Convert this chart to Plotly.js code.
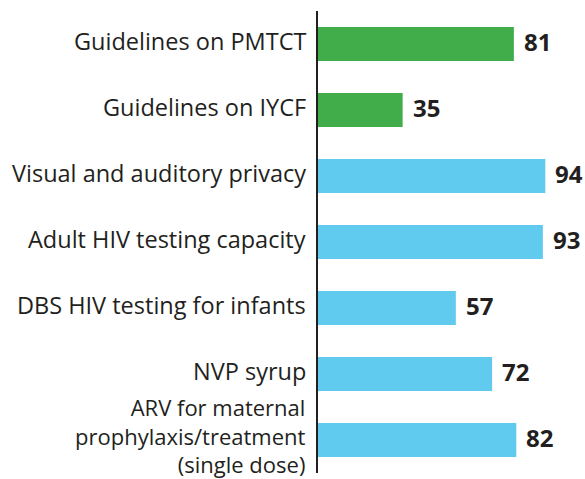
<!DOCTYPE html>
<html>
<head>
<meta charset="utf-8">
<script src="https://cdn.plot.ly/plotly-3.0.1.min.js"></script>
<style>html,body{margin:0;padding:0;background:#fff;}#chart{width:585px;height:479px;}</style>
</head>
<body>
<div id="chart"></div>
<script>
const categories = [
  "Guidelines on PMTCT",
  "Guidelines on IYCF",
  "Visual and auditory privacy",
  "Adult HIV testing capacity",
  "DBS HIV testing for infants",
  "NVP syrup",
  "ARV for maternal<br>prophylaxis/treatment<br>(single dose)"
];
const values = [81, 35, 94, 93, 57, 72, 82];
const groups = ["guidelines", "guidelines", "services", "services", "services", "services", "services"];
const groupColors = {guidelines: "#40ad4a", services: "#60cbef"};

const textColor = "#231f20";

const trace = {
  type: "bar",
  orientation: "h",
  x: values,
  y: categories,
  marker: {color: groups.map(g => groupColors[g])},
  hoverinfo: "none"
};

const annotations = [];
values.forEach((v, i) => {
  annotations.push({
    x: v, y: categories[i], xref: "x", yref: "y",
    text: String(v), showarrow: false, xanchor: "left", xshift: 8, yshift: 3,
    font: {family: "Open Sans", size: 24, color: textColor, weight: "bold"}
  });
});
categories.forEach((c) => {
  const multi = c.indexOf("<br>") >= 0;
  annotations.push({
    x: 0, y: c, xref: "x", yref: "y",
    text: c, showarrow: false, xanchor: "right", yanchor: "middle", align: "right",
    xshift: -10, yshift: multi ? 5 : 3,
    font: {family: "Open Sans", size: multi ? 22 : 23.5, color: textColor}
  });
});

const layout = {
  width: 585, height: 479,
  margin: {l: 318, r: 1, t: 11, b: 6, pad: 0},
  paper_bgcolor: "#ffffff", plot_bgcolor: "#ffffff",
  showlegend: false,
  bargap: 0.485,
  xaxis: {range: [0, 110], showgrid: false, zeroline: false, showline: false, showticklabels: false, ticks: ""},
  yaxis: {
    range: [categories.length - 0.5, -0.5], showgrid: false, zeroline: false,
    showline: true, linecolor: textColor, linewidth: 2.5,
    ticks: "", showticklabels: false
  },
  annotations: annotations
};

Plotly.newPlot("chart", [trace], layout, {displayModeBar: false, staticPlot: true});
</script>
</body>
</html>
